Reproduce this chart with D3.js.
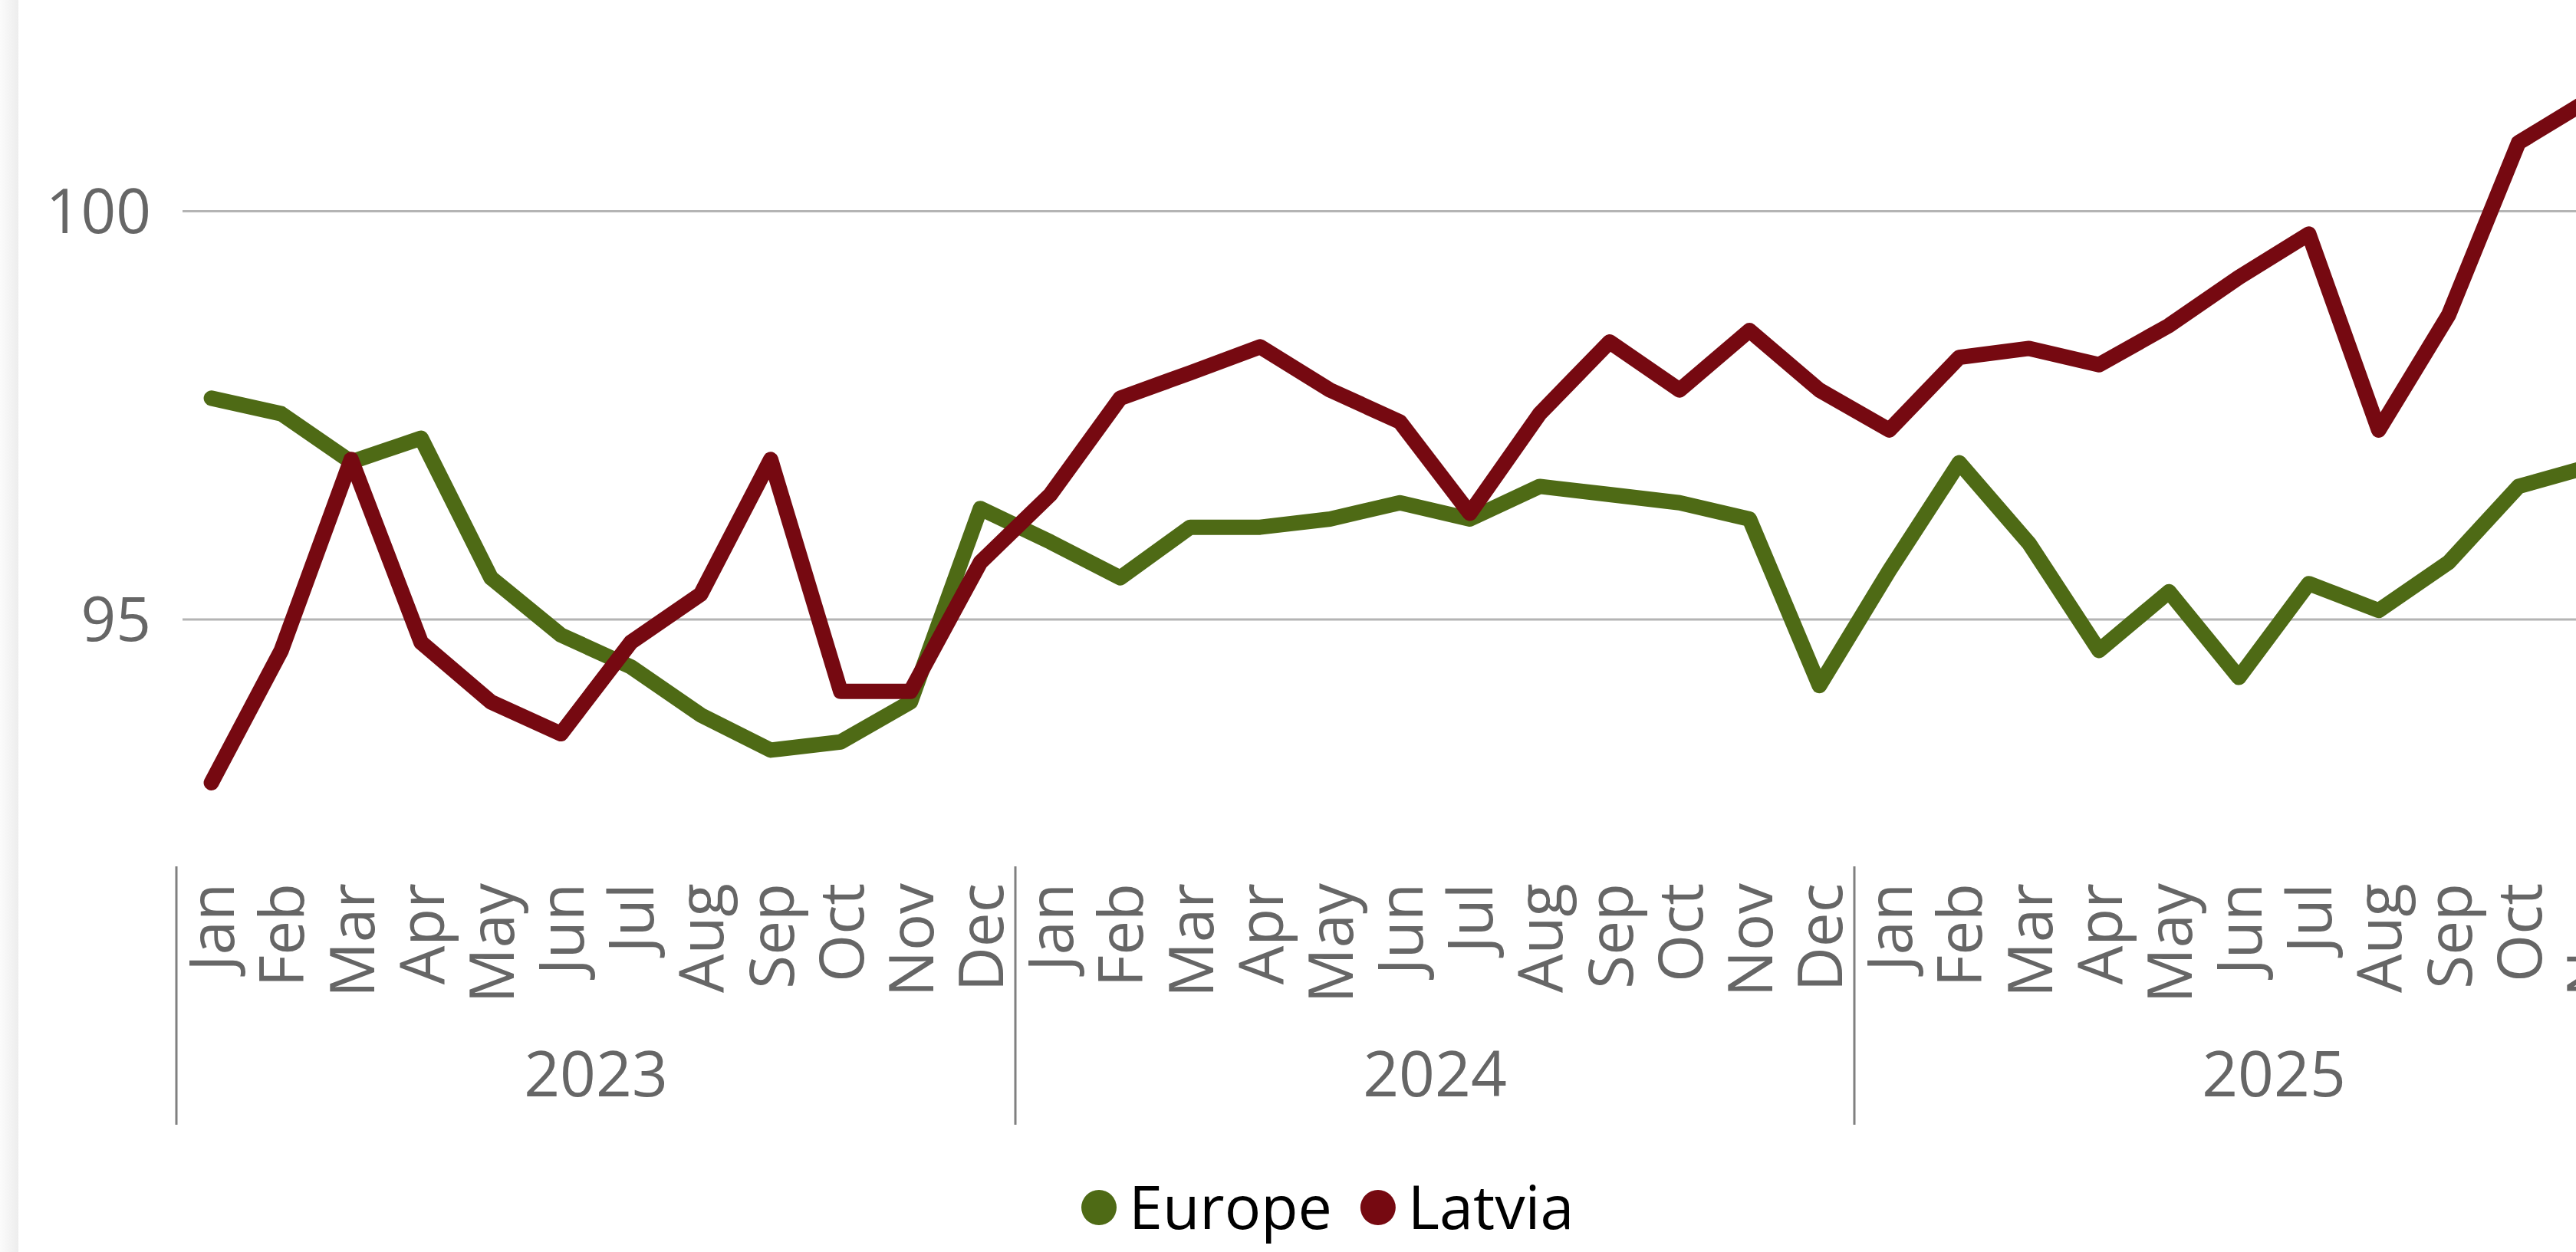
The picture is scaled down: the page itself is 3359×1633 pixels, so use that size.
<!DOCTYPE html>
<html>
<head>
<meta charset="utf-8">
<script src="https://cdn.jsdelivr.net/npm/d3@7"></script>
<style>
  body { margin: 0; background: #fff; }
  svg { display: block; }
  .grid line { stroke: #b4b4b4; stroke-width: 3; }
  .tick-label { font-family: "Open Sans", "Noto Sans", sans-serif; fill: #666; }
  .line { fill: none; stroke-width: 20; stroke-linejoin: round; stroke-linecap: round; }
  .legend text { font-family: "Open Sans", "Noto Sans", sans-serif; fill: #000; }
</style>
</head>
<body>
<div id="chart"></div>
<script>
// categories
var years = ["2023", "2024", "2025"];
var months = ["Jan", "Feb", "Mar", "Apr", "May", "Jun", "Jul", "Aug", "Sep", "Oct", "Nov", "Dec"];
var yTicks = [95, 100];

// series, Jan 2023 .. Nov 2025
var europe = [97.71, 97.52, 96.93, 97.22, 95.51, 94.81, 94.42, 93.83, 93.40, 93.50, 93.99, 96.36,
              95.95, 95.51, 96.13, 96.13, 96.23, 96.43, 96.23, 96.63, 96.53, 96.43, 96.23, 94.19,
              95.60, 96.92, 95.93, 94.62, 95.34, 94.29, 95.44, 95.11, 95.70, 96.63, 96.87];
var latvia = [93.00, 94.62, 96.96, 94.72, 93.99, 93.60, 94.72, 95.31, 96.96, 94.12, 94.12, 95.70,
              96.53, 97.71, 98.02, 98.34, 97.81, 97.42, 96.30, 97.52, 98.40, 97.81, 98.54, 97.81,
              97.32, 98.21, 98.32, 98.12, 98.60, 99.19, 99.72, 97.32, 98.73, 100.84, 101.36];

var seriesNames = ["Europe", "Latvia"];
var seriesColors = ["#4e6a15", "#760911"];
var seriesData = [europe, latvia];

var width = 3359, height = 1633;

// build the flat list of category keys
var cats = [];
years.forEach(function(y) {
	months.forEach(function(m) { cats.push(y + "-" + m); });
});

var x = d3.scaleBand().domain(cats).range([230, 3512]).padding(0);
var y = d3.scaleLinear().domain([92, 102.5]).range([1127.5, 9.25]);

function cx(i) { return x(cats[i]) + x.bandwidth() / 2; }

var svg = d3.select("#chart")
	.append("svg")
	.attr("width", width)
	.attr("height", height);

// faint card edge on the left
var grad = svg.append("defs").append("linearGradient").attr("id", "edge");
grad.append("stop").attr("offset", "0%").attr("stop-color", "#fbfbfb");
grad.append("stop").attr("offset", "100%").attr("stop-color", "#ededed");
svg.append("rect")
	.attr("x", 0).attr("y", 0)
	.attr("width", 24).attr("height", height)
	.attr("fill", "url(#edge)");

// gridlines + y labels
var grid = svg.append("g").attr("class", "grid");
grid.selectAll("line")
	.data(yTicks)
	.enter().append("line")
	.attr("x1", 238).attr("x2", width)
	.attr("y1", function(d) { return y(d); })
	.attr("y2", function(d) { return y(d); });

svg.selectAll(".ylab")
	.data(yTicks)
	.enter().append("text")
	.attr("class", "tick-label ylab")
	.attr("x", 197)
	.attr("y", function(d) { return y(d); })
	.attr("dy", "0.35em")
	.style("font-size", "80px")
	.style("text-anchor", "end")
	.text(function(d) { return d; });

// month labels, rotated
svg.selectAll(".mlab")
	.data(cats)
	.enter().append("text")
	.attr("class", "tick-label mlab")
	.attr("transform", function(d, i) { return "translate(" + cx(i) + ",1152) rotate(-90)"; })
	.attr("dy", "0.37em")
	.style("font-size", "80px")
	.style("text-anchor", "end")
	.text(function(d) { return d.split("-")[1]; });

// year group separators
var bounds = d3.range(years.length + 1).map(function(k) { return x.range()[0] + k * 12 * x.bandwidth(); });
svg.selectAll(".sep")
	.data(bounds)
	.enter().append("line")
	.attr("class", "sep")
	.attr("x1", function(d) { return d; })
	.attr("x2", function(d) { return d; })
	.attr("y1", 1130).attr("y2", 1467)
	.attr("stroke", "#808080")
	.attr("stroke-width", 3);

// year labels
svg.selectAll(".ylabel")
	.data(years)
	.enter().append("text")
	.attr("class", "tick-label ylabel")
	.attr("x", function(d, k) { return (bounds[k] + bounds[k + 1]) / 2; })
	.attr("y", 1430)
	.style("font-size", "82px")
	.style("text-anchor", "middle")
	.text(function(d) { return d; });

// the two lines
var line = d3.line()
	.x(function(d, i) { return cx(i); })
	.y(function(d) { return y(d); });

seriesData.forEach(function(s, k) {
	svg.append("path")
		.datum(s)
		.attr("class", "line")
		.attr("stroke", seriesColors[k])
		.attr("d", line);
});

// legend
var legend = svg.append("g").attr("class", "legend");
var lx = 1433;
seriesNames.forEach(function(name, k) {
	legend.append("circle")
		.attr("cx", lx).attr("cy", 1575)
		.attr("r", 23)
		.attr("fill", seriesColors[k]);
	var t = legend.append("text")
		.attr("x", lx + 39)
		.attr("y", 1575)
		.attr("dy", "0.35em")
		.style("font-size", "79px")
		.text(name);
	lx = lx + 39 + t.node().getComputedTextLength() + 60;
});
</script>
</body>
</html>
